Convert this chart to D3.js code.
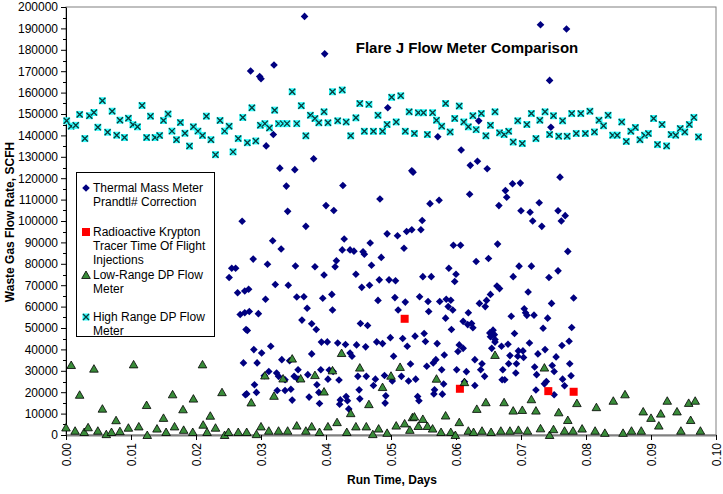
<!DOCTYPE html>
<html>
<head>
<meta charset="utf-8">
<script src="https://cdn.jsdelivr.net/npm/d3@7"></script>
<style>
  body { margin: 0; background: #fff; }
  svg { font-family: Arial, "Liberation Sans", sans-serif; }
  .tick text { font-size: 12px; fill: #000; }
  .title { font-size: 15px; font-weight: bold; }
  .label { font-size: 12px; font-weight: bold; }
  .legend text { font-size: 12px; }
</style>
</head>
<body>
<svg width="723" height="494"></svg>
<script>
// **** data: [run time (days), flow (SCFH)] ****

const thermalMass = [
  [0.0367,195600],[0.0398,178100],[0.0320,172900],[0.0284,170100],[0.0298,167500],[0.0300,166500],
  [0.0495,152900],[0.0319,140400],[0.0308,135100],[0.0381,129100],[0.0329,124700],[0.0352,124000],
  [0.0532,123500],[0.0339,116300],[0.0426,116600],[0.0483,110300],[0.0400,107200],[0.0412,104900],
  [0.0341,104500],[0.0730,191700],[0.0770,189700],[0.0744,165700],[0.0635,146800],[0.0746,143800],
  [0.0572,139400],[0.0608,133200],[0.0534,122800],[0.0622,126000],[0.0633,127900],[0.0648,124400],
  [0.0760,120500],[0.0687,117400],[0.0699,117700],[0.0621,112500],[0.0676,114200],[0.0678,111100],
  [0.0560,108100],[0.0574,109700],[0.0728,108500],[0.0666,107200],[0.0700,104800],[0.0714,104100],
  [0.0757,104800],[0.0768,102500],[0.0548,100200],[0.0718,100000],[0.0762,100000],
  [0.0271,99900],[0.0255,77900],[0.0261,77900],[0.0251,73600],[0.0264,66500],[0.0275,67300],
  [0.0268,56300],[0.0275,57100],[0.0277,49300],[0.0273,33700],[0.0276,18800],
  [0.0369,97500],[0.0318,90800],[0.0428,91600],[0.0331,86900],[0.0425,86500],[0.0437,86500],
  [0.0443,85900],[0.0468,89700],[0.0457,85600],[0.0459,84500],[0.0494,94000],[0.0510,93100],
  [0.0524,95100],[0.0532,95900],[0.0520,87300],[0.0288,82200],[0.0310,79800],[0.0353,79000],
  [0.0383,78600],[0.0416,81400],[0.0414,78600],[0.0485,83000],[0.0470,79300],[0.0397,74800],
  [0.0446,75100],[0.0482,72500],[0.0497,72500],[0.0507,72100],[0.0322,70300],[0.0342,70000],
  [0.0455,69000],[0.0467,70000],[0.0281,68100],[0.0307,63400],[0.0355,64500],[0.0366,64600],
  [0.0395,63900],[0.0409,65700],[0.0480,62900],[0.0506,64200],[0.0522,62100],[0.0371,59200],
  [0.0410,58400],[0.0511,58400],[0.0282,57700],[0.0296,56700],[0.0363,53700],[0.0378,52000],
  [0.0385,49300],[0.0453,52100],[0.0464,51200],[0.0279,48800],[0.0499,45500],[0.0518,45100],
  [0.0393,43400],[0.0402,43500],[0.0418,43000],[0.0430,42300],[0.0447,42100],[0.0461,41200],
  [0.0478,43500],[0.0487,42700],[0.0525,41500],[0.0315,41500],[0.0289,39900],[0.0301,38300],
  [0.0437,38300],[0.0440,36800],[0.0378,37900],[0.0504,36800],[0.0332,35200],[0.0344,34700],
  [0.0294,33700],[0.0530,33200],[0.0357,30500],[0.0392,30500],[0.0312,29700],[0.0324,29000],
  [0.0372,28200],[0.0405,30400],[0.0411,29700],[0.0305,27700],[0.0327,27400],[0.0351,27400],
  [0.0357,26100],[0.0449,27400],[0.0462,27400],[0.0476,26100],[0.0490,27800],[0.0516,27400],
  [0.0337,25800],[0.0403,26100],[0.0420,25700],[0.0502,25200],[0.0527,25200],[0.0290,23500],
  [0.0386,23500],[0.0473,23100],[0.0451,21100],[0.0325,20800],[0.0337,20800],[0.0346,21400],
  [0.0293,19900],[0.0389,19900],[0.0278,19200],[0.0492,18300],[0.0374,17700],[0.0431,18000],
  [0.0452,16900],[0.0348,16300],[0.0422,16400],[0.0433,16000],[0.0491,14900],[0.0390,14700],
  [0.0421,14400],[0.0435,12200],
  [0.0546,95900],[0.0732,97500],[0.0596,88700],[0.0607,88700],[0.0664,89200],[0.0772,85800],
  [0.0631,81100],[0.0650,82500],[0.0589,77900],[0.0600,75100],[0.0598,71700],[0.0697,78900],
  [0.0716,78900],[0.0757,76700],[0.0688,74000],[0.0743,73600],[0.0549,74000],[0.0562,74000],
  [0.0663,69600],[0.0667,68400],[0.0711,66800],[0.0781,64000],[0.0544,64600],[0.0653,65700],
  [0.0647,62900],[0.0636,61500],[0.0645,60000],[0.0557,62400],[0.0575,62400],[0.0585,63400],
  [0.0592,63000],[0.0588,60000],[0.0595,58400],[0.0558,57700],[0.0705,59000],[0.0707,57100],
  [0.0709,55900],[0.0720,56000],[0.0747,61500],[0.0619,57100],[0.0584,54600],[0.0611,53100],
  [0.0618,51600],[0.0624,52100],[0.0626,50100],[0.0685,55500],[0.0741,54600],[0.0778,50200],
  [0.0734,49900],[0.0593,49300],[0.0652,47700],[0.0657,49000],[0.0659,46900],[0.0653,45900],
  [0.0660,44600],[0.0660,43400],[0.0690,47400],[0.0537,46200],[0.0551,47400],[0.0553,43700],
  [0.0571,42700],[0.0605,42100],[0.0611,40500],[0.0603,39000],[0.0670,41500],[0.0680,42400],
  [0.0655,40500],[0.0713,43000],[0.0763,41800],[0.0774,43800],[0.0696,39300],[0.0703,39300],
  [0.0683,37100],[0.0695,36800],[0.0704,36200],[0.0726,37900],[0.0737,39900],[0.0754,36500],
  [0.0582,37400],[0.0565,33700],[0.0569,35200],[0.0555,32100],[0.0629,35200],[0.0640,33300],
  [0.0638,30500],[0.0681,33300],[0.0693,33300],[0.0721,31800],[0.0748,32500],[0.0775,33300],
  [0.0578,30500],[0.0601,30500],[0.0616,29600],[0.0672,30500],[0.0692,29000],[0.0724,28200],
  [0.0751,29700],[0.0777,27700],[0.0538,26100],[0.0644,27400],[0.0671,25800],[0.0675,25800],
  [0.0764,26100],[0.0736,23900],[0.0739,25000],[0.0581,23800],[0.0629,23100],[0.0767,23000],
  [0.0567,21100],[0.0579,19100],[0.0566,19200],[0.0723,21000],[0.0751,18800],[0.0541,18000],
  [0.0543,16000],[0.0613,24900]
];

const kryptonTracer = [[0.0521,54300],[0.0606,21600],[0.0742,20500],[0.0781,20200]];

const lowRangeDP = [
  [0.0008,32700],[0.0021,18800],[0.0043,31000],[0.0056,12300],[0.0077,6900],
  [0.0104,33000],[0.0124,14000],[0.0150,8000],[0.0164,19000],[0.0180,12000],[0.0196,17000],
  [0.0210,33000],[0.0222,9000],[0.0240,20000],
  [0.0348,35700],[0.0424,38300],[0.0452,31500],[0.0514,31800],[0.0306,27800],[0.0334,26400],
  [0.0361,26400],[0.0383,28000],[0.0410,30200],[0.0500,27700],[0.0397,20300],[0.0487,22400],
  [0.0320,18300],[0.0285,15200],[0.0466,14400],[0.0438,10200],[0.0533,8300],
  [0.0660,37400],[0.0736,31500],[0.0570,26300],[0.0613,24700],[0.0646,15300],[0.0674,15300],
  [0.0632,12200],[0.0716,16700],[0.0786,14900],[0.0688,11400],[0.0702,11700],[0.0723,11400],
  [0.0758,10600],[0.0772,7000],[0.0536,8600],[0.0549,7500],[0.0584,9100],[0.0605,6000],
  [0.0816,13000],[0.0842,16000],[0.0860,19000],[0.0888,11000],[0.0900,8000],[0.0915,10000],
  [0.0925,16000],[0.0940,11000],[0.0958,15000],[0.0968,16000],
  [0.0000,3500],[0.0014,2000],[0.0028,1400],[0.0034,3600],[0.0049,2000],[0.0062,400],
  [0.0070,1400],[0.0083,1800],[0.0096,3400],[0.0112,4000],[0.0125,0],[0.0140,3000],
  [0.0154,1400],[0.0167,4000],[0.0181,2400],[0.0195,1400],[0.0211,4800],[0.0217,1400],
  [0.0230,3400],[0.0244,0],[0.0250,1400],[0.0265,1400],[0.0278,1400],[0.0293,400],
  [0.0300,4000],[0.0312,2000],[0.0327,2000],[0.0341,2000],[0.0355,4400],[0.0369,2000],
  [0.0378,4000],[0.0390,1400],[0.0403,4000],[0.0417,6000],[0.0432,1400],[0.0446,4000],
  [0.0462,4000],[0.0472,400],[0.0481,3000],[0.0494,1000],[0.0508,4400],[0.0521,5400],
  [0.0529,2400],[0.0542,4200],[0.0556,4200],[0.0564,3000],[0.0577,1400],[0.0592,1400],
  [0.0599,0],[0.0619,2000],[0.0627,1400],[0.0640,2000],[0.0654,1400],[0.0669,2000],
  [0.0683,2000],[0.0696,2400],[0.0710,2000],[0.0730,3100],[0.0744,0],[0.0750,2700],
  [0.0767,2000],[0.0780,2000],[0.0794,3000],[0.0814,2000],[0.0829,1000],[0.0857,1000],
  [0.0870,2000],[0.0885,2000],[0.0912,4400],[0.0946,2000],[0.0961,7000],[0.0976,2000]
];

const highRangeDP = [
  [0.0001,146800],[0.0008,144300],[0.0015,144700],[0.0021,149800],[0.0029,138500],[0.0036,149200],
  [0.0043,150700],[0.0049,143800],[0.0056,156200],[0.0064,141500],[0.0071,151300],[0.0078,140100],
  [0.0083,147100],[0.0090,139000],[0.0096,148000],[0.0103,145000],[0.0110,144000],[0.0117,154000],
  [0.0124,139000],[0.0130,149000],[0.0137,139000],[0.0144,140000],[0.0150,147000],[0.0157,150000],
  [0.0163,142000],[0.0170,138000],[0.0176,146000],[0.0183,141000],[0.0190,135000],[0.0196,144000],
  [0.0203,142000],[0.0210,140000],[0.0216,149000],[0.0223,138000],[0.0230,131000],[0.0237,147000],
  [0.0244,142000],
  [0.0251,144300],[0.0257,132300],[0.0265,138500],[0.0272,148400],[0.0279,136600],[0.0286,152900],
  [0.0292,137400],[0.0299,144700],[0.0306,145500],[0.0313,143500],[0.0321,151800],[0.0327,145500],
  [0.0334,145500],[0.0340,145500],[0.0348,160400],[0.0355,145500],[0.0362,153900],[0.0369,139800],
  [0.0376,149400],[0.0383,147900],[0.0389,145900],[0.0397,151000],[0.0403,145900],[0.0410,160400],
  [0.0418,146800],[0.0425,161200],[0.0431,146300],[0.0438,139800],[0.0446,148200],[0.0452,154900],
  [0.0459,141900],[0.0466,154500],[0.0473,141900],[0.0480,149400],[0.0487,141900],[0.0494,145100],
  [0.0501,157800],[0.0508,146300],[0.0515,158500],[0.0522,141900],[0.0528,151000],[0.0536,140900],
  [0.0542,150600],[0.0550,150600],[0.0556,140400],[0.0564,150600],[0.0570,147100],[0.0578,144300],
  [0.0584,154900],[0.0591,141600],[0.0598,147900],[0.0605,153700],[0.0612,146300],[0.0619,144000],
  [0.0626,149200],[0.0631,142700],
  [0.0639,150200],[0.0646,139800],[0.0653,144700],[0.0660,151000],[0.0667,141200],[0.0674,140400],
  [0.0681,141900],[0.0688,136900],[0.0695,146800],[0.0702,136200],[0.0709,145100],[0.0716,150200],
  [0.0723,138500],[0.0729,147100],[0.0737,151000],[0.0744,140400],[0.0750,149200],[0.0758,139600],
  [0.0764,146800],[0.0771,139600],[0.0778,150200],[0.0785,140900],[0.0792,150200],[0.0799,140900],
  [0.0806,151300],[0.0813,141600],[0.0820,147100],[0.0827,144500],[0.0834,149400],[0.0841,140100],
  [0.0848,140100],[0.0855,146300],[0.0862,137200],[0.0869,141900],[0.0876,143700],[0.0883,138000],
  [0.0890,140100],[0.0896,140900],[0.0904,147900],[0.0910,135700],[0.0917,145100],[0.0924,135100],
  [0.0931,140400],[0.0938,140100],[0.0945,143200],[0.0952,141600],[0.0959,145100],[0.0966,148400],
  [0.0973,139300]
];

const yTicks = d3.range(0, 200001, 10000);
const xTicks = d3.range(0, 11).map(d => d / 100);

const legendItems = [
  { lines: ['Thermal Mass Meter', 'Prandtl# Correction'], kind: 'diamond' },
  { lines: ['Radioactive Krypton', 'Tracer Time Of Flight', 'Injections'], kind: 'square' },
  { lines: ['Low-Range DP Flow', 'Meter'], kind: 'triangle' },
  { lines: ['High Range DP Flow', 'Meter'], kind: 'cross' }
];

// **** scales, axes ****

var svg = d3.select('svg');

var xScale = d3.scaleLinear().domain([0, 0.1]).range([66, 716]);
var yScale = d3.scaleLinear().domain([0, 200000]).range([435, 7]);

// plot area border
svg.append('rect')
  .attr('x', 66).attr('y', 7)
  .attr('width', 650).attr('height', 428)
  .attr('fill', 'none').attr('stroke', '#808080').attr('stroke-width', 1);

var yAxis = svg.append('g').attr('class', 'y axis')
  .attr('transform', 'translate(66,0)')
  .call(d3.axisLeft(yScale).tickValues(yTicks).tickFormat(d3.format('d')).tickSize(5).tickSizeOuter(0));
yAxis.selectAll('.tick text').attr('x', -8);

// minor ticks on y
svg.append('g').selectAll('line')
  .data(d3.range(5000, 200000, 10000))
  .enter().append('line')
  .attr('x1', 63).attr('x2', 66)
  .attr('y1', d => Math.round(yScale(d)) + 0.5).attr('y2', d => Math.round(yScale(d)) + 0.5)
  .attr('stroke', '#000');

var xAxis = svg.append('g').attr('class', 'x axis')
  .attr('transform', 'translate(0,435)')
  .call(d3.axisBottom(xScale).tickValues(xTicks).tickFormat(d3.format('.2f')).tickSize(5).tickSizeOuter(0));
xAxis.select('.domain').attr('stroke', '#808080').attr('stroke-width', 2);
xAxis.selectAll('.tick text')
  .attr('transform', 'rotate(-90)')
  .attr('x', -8).attr('y', 0).attr('dy', '0.35em')
  .style('text-anchor', 'end');

// **** markers ****

function marker(g, kind) {
  if (kind === 'diamond') {
    g.append('path').attr('d', 'M0,-3.8L3.8,0L0,3.8L-3.8,0Z').attr('fill', '#000080');
  } else if (kind === 'square') {
    g.append('rect').attr('x', -4).attr('y', -4).attr('width', 8).attr('height', 8).attr('fill', '#ff0000');
  } else if (kind === 'triangle') {
    g.append('path').attr('d', 'M0,-4L4.3,3.5L-4.3,3.5Z')
      .attr('fill', '#3a8c3a').attr('stroke', '#000').attr('stroke-width', 0.8);
  } else {
    g.append('rect').attr('x', -3.5).attr('y', -3.5).attr('width', 7).attr('height', 7).attr('fill', '#33ffff');
    g.append('path').attr('d', 'M-3,-3L3,3M-3,3L3,-3')
      .attr('stroke', '#0b3b3b').attr('stroke-width', 1.4).attr('fill', 'none');
  }
}

function drawSeries(data, kind) {
  const g = svg.append('g').attr('class', 'series-' + kind);
  data.forEach(d => {
    const p = g.append('g')
      .attr('transform', `translate(${xScale(d[0])},${yScale(d[1])})`);
    marker(p, kind);
  });
}

drawSeries(thermalMass, 'diamond');
drawSeries(kryptonTracer, 'square');
drawSeries(lowRangeDP, 'triangle');
drawSeries(highRangeDP, 'cross');

// **** titles ****

svg.append('text')
  .attr('class', 'title')
  .attr('x', 467).attr('y', 53)
  .attr('text-anchor', 'middle')
  .text('Flare J Flow Meter Comparison');

svg.append('text')
  .attr('class', 'label')
  .attr('x', 392).attr('y', 484)
  .attr('text-anchor', 'middle')
  .text('Run Time, Days');

svg.append('text')
  .attr('class', 'label')
  .attr('transform', 'translate(14,222) rotate(-90)')
  .attr('text-anchor', 'middle')
  .text('Waste Gas Flow Rate, SCFH');

// **** legend ****

const legend = svg.append('g').attr('class', 'legend');
legend.append('rect')
  .attr('x', 76.5).attr('y', 172.5)
  .attr('width', 138).attr('height', 164)
  .attr('fill', '#fff').attr('stroke', '#000');

const legendTop = [192, 236, 279, 321];
legendItems.forEach((item, i) => {
  const g = legend.append('g').attr('transform', `translate(0,${legendTop[i]})`);
  marker(g.append('g').attr('transform', 'translate(86,-4)'), item.kind);
  item.lines.forEach((line, j) => {
    g.append('text').attr('x', 93).attr('y', j * 14).text(line);
  });
});
</script>
</body>
</html>
